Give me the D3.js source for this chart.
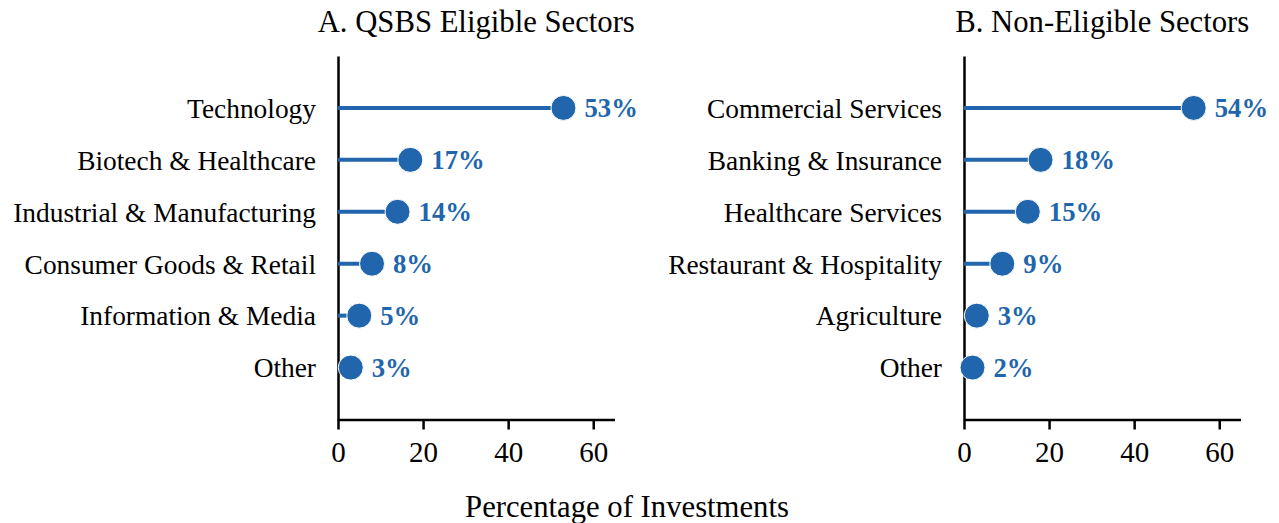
<!DOCTYPE html>
<html><head><meta charset="utf-8">
<script src="https://cdn.jsdelivr.net/npm/d3@7"></script>
<style>body{margin:0;background:#fff}svg{display:block}text{font-family:"Liberation Serif","Times New Roman",serif}</style>
</head><body><svg id="c" width="1279" height="523"></svg>
<script>
const catsA = ["Technology","Biotech & Healthcare","Industrial & Manufacturing","Consumer Goods & Retail","Information & Media","Other"];
const valsA = [53,17,14,8,5,3];
const catsB = ["Commercial Services","Banking & Insurance","Healthcare Services","Restaurant & Hospitality","Agriculture","Other"];
const valsB = [54,18,15,9,3,2];
const titles = ["A. QSBS Eligible Sectors","B. Non-Eligible Sectors"];
const xTicks = [0,20,40,60];
const xLabel = "Percentage of Investments";

(function(){
const color = "#2166ac";
const svg = d3.select("#c");
const panels = [{cats:catsA, vals:valsA, x0:338, title:titles[0]},{cats:catsB, vals:valsB, x0:964, title:titles[1]}];
const W = 276.5, yTop = 56, yBot = 419.5;
const fs = 27.4, fsTick = 29, fsTitle = 30.7;

panels.forEach(p => {
  const x = d3.scaleLinear().domain([0,65]).range([p.x0, p.x0+W]);
  const y = d3.scalePoint().domain(p.cats).range([yTop,yBot]).padding(1);
  const g = svg.append("g");
  const xa = g.append("g").attr("transform",`translate(0,${yBot})`)
    .call(d3.axisBottom(x).tickValues(xTicks).tickSize(10).tickPadding(12).tickSizeOuter(0));
  xa.select(".domain").attr("stroke","#000").attr("stroke-width",2.5);
  xa.selectAll(".tick line").attr("stroke-width",2.5);
  xa.selectAll("text").attr("font-size",fsTick).attr("font-family","Liberation Serif").attr("fill","#000");
  const ya = g.append("g").attr("transform",`translate(${p.x0},0)`)
    .call(d3.axisLeft(y).tickSize(0).tickPadding(22).tickSizeOuter(0));
  ya.select(".domain").attr("stroke","#000").attr("stroke-width",2.5);
  ya.selectAll("text").attr("font-size",fs).attr("font-family","Liberation Serif").attr("fill","#000").attr("dy","0.34em");
  g.selectAll(".stem").data(p.cats).join("line")
    .attr("x1",x(0)).attr("x2",(d,i)=>x(p.vals[i]))
    .attr("y1",d=>y(d)).attr("y2",d=>y(d))
    .attr("stroke",color).attr("stroke-width",4);
  g.selectAll(".dot").data(p.cats).join("circle")
    .attr("cx",(d,i)=>x(p.vals[i])).attr("cy",d=>y(d)).attr("r",12.5)
    .attr("fill",color).attr("stroke","#fff").attr("stroke-width",1);
  g.selectAll(".val").data(p.cats).join("text")
    .attr("x",(d,i)=>x(p.vals[i])+21).attr("y",d=>y(d)).attr("dy","0.34em")
    .attr("font-size",26.7).attr("font-weight","bold").attr("fill",color)
    .text((d,i)=>p.vals[i]+"%");
  g.append("text").attr("x",p.x0+W/2).attr("y",32).attr("text-anchor","middle")
    .attr("font-size",fsTitle).attr("fill","#000").text(p.title);
});
svg.append("text").attr("x",627).attr("y",517).attr("text-anchor","middle")
  .attr("font-size",fsTitle).attr("fill","#000").text(xLabel);
})();
</script></body></html>
